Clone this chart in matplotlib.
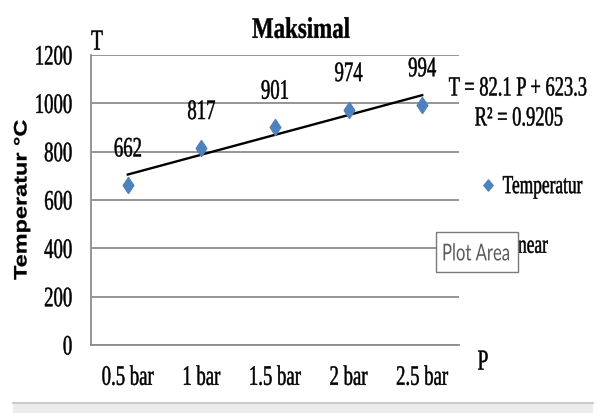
import numpy as np
import matplotlib
matplotlib.use("Agg")
import matplotlib.pyplot as plt
from matplotlib.path import Path
from matplotlib.lines import Line2D
from matplotlib.patches import Rectangle
from matplotlib.patheffects import AbstractPathEffect
from matplotlib.transforms import Affine2D

# ---------------- data ----------------
categories = ["0.5 bar", "1 bar", "1.5 bar", "2 bar", "2.5 bar"]
temps = [662, 817, 901, 974, 994]
y_ticks = [0, 200, 400, 600, 800, 1000, 1200]
title = "Maksimal"
y_label = "Temperatur °C"
series_label = "Temperatur"
trend_label = "Linear"

# ---------------- helpers ----------------
class Stretch(AbstractPathEffect):
    """Scale glyphs about their own centre (the source image is stretched)."""
    def __init__(self, sx=1.0, sy=1.0, stroke=0.0):
        super().__init__()
        self.sx, self.sy, self.stroke = sx, sy, stroke

    def draw_path(self, renderer, gc, tpath, affine, rgbFace=None):
        ext = tpath.get_extents()
        cx = (ext.x0 + ext.x1) / 2
        cy = (ext.y0 + ext.y1) / 2
        t = Affine2D().translate(-cx, -cy).scale(self.sx, self.sy).translate(cx, cy) + affine
        gc0 = renderer.new_gc()
        gc0.copy_properties(gc)
        if self.stroke > 0 and rgbFace is not None:
            gc0.set_linewidth(self.stroke)
            gc0.set_foreground(rgbFace)
        renderer.draw_path(gc0, tpath, t, rgbFace)
        gc0.restore()

SY = 1.5
STR = [Stretch(1.0, SY, 0.35)]

W, H = 599, 413
def fx(px): return px / W
def fy(py): return 1 - py / H

serif = "Liberation Serif"

fig = plt.figure(figsize=(W / 100, H / 100), dpi=100)
ax = fig.add_axes([fx(91), fy(345), fx(459) - fx(91), fy(55) - fy(345)])

x = np.arange(len(categories))
t_arr = np.array(temps, dtype=float)
P = np.arange(1, len(temps) + 1)
slope, intercept = np.polyfit(P, t_arr, 1)
fit = slope * P + intercept
r2 = 1 - np.sum((t_arr - fit) ** 2) / np.sum((t_arr - t_arr.mean()) ** 2)

diamond = Path([(0, 1.5), (1, 0), (0, -1.5), (-1, 0), (0, 1.5)],
               [Path.MOVETO, Path.LINETO, Path.LINETO, Path.LINETO, Path.CLOSEPOLY])
blue = "#4F81BD"

ax.plot(x, fit, color="black", lw=1.7, zorder=3)
ax.plot(x, temps, linestyle="none", marker=diamond, ms=11.5, color=blue,
        markeredgecolor=blue, zorder=4)

for xi, v in zip(x, temps):
    a = ax.annotate(f"{v}", (xi, v), xytext=(0, 26), textcoords="offset points",
                    ha="center", va="center", fontsize=13.5, family=serif, color="black")
    a.set_path_effects(STR)

ax.set_xlim(-0.5, len(categories) - 0.5)
ax.set_ylim(y_ticks[0], y_ticks[-1])
ax.set_yticks(y_ticks)
ax.set_xticks(x)
ax.set_xticklabels(categories)
ax.yaxis.grid(True, color="#8c8c8c", lw=1.3)
ax.set_axisbelow(True)
for s in ["top", "right"]:
    ax.spines[s].set_visible(False)
for s in ["left", "bottom"]:
    ax.spines[s].set_color("#8c8c8c")
    ax.spines[s].set_linewidth(1.3)
ax.tick_params(axis="both", length=0)
ax.tick_params(axis="y", pad=13.5)
ax.tick_params(axis="x", pad=17)
for lab in ax.get_xticklabels() + ax.get_yticklabels():
    lab.set_fontfamily(serif)
    lab.set_fontsize(13.5)
    lab.set_path_effects(STR)

yl = fig.text(fx(22), fy(200), y_label, rotation=90, ha="center", va="center",
              fontsize=13, fontweight="bold", family="Liberation Sans")
yl.set_path_effects([Stretch(1.3, 1.0, 0.2)])

tt = fig.text(fx(301), fy(30), title, ha="center", va="center", fontsize=16.5,
              fontweight="bold", family=serif)
tt.set_path_effects([Stretch(1.0, 1.3, 0.3)])

t1 = fig.text(fx(97), fy(42), "T", ha="center", va="center", fontsize=14, family=serif)
t1.set_path_effects(STR)
t2 = fig.text(fx(483), fy(362), "P", ha="center", va="center", fontsize=14, family=serif)
t2.set_path_effects(STR)

eq = fig.text(fx(518), fy(88), f"T = {slope:.1f} P + {intercept:.1f}", ha="center",
              va="center", fontsize=13.3, family=serif)
eq.set_path_effects(STR)
rr = fig.text(fx(519), fy(118), f"R² = {r2:.4f}", ha="center", va="center",
              fontsize=13.3, family=serif)
rr.set_path_effects(STR)

handles = [Line2D([], [], linestyle="none", marker=Path([(0, 1.2), (1, 0), (0, -1.2), (-1, 0), (0, 1.2)],
                  [Path.MOVETO, Path.LINETO, Path.LINETO, Path.LINETO, Path.CLOSEPOLY]),
                  ms=8, color=blue),
           Line2D([], [], color="black", lw=1.7)]
leg = fig.legend(handles, [series_label, trend_label], loc="center left",
                 bbox_to_anchor=(fx(479), fy(216.5)), bbox_transform=fig.transFigure,
                 frameon=False, borderpad=0, borderaxespad=0, handlelength=1.0,
                 handletextpad=0.36, labelspacing=2.45,
                 prop={"family": serif, "size": 12.5})
for t in leg.get_texts():
    t.set_path_effects(STR)

# "Plot Area" tooltip box
fig.add_artist(Rectangle((fx(436), fy(272)), fx(518) - fx(436), fy(232) - fy(272),
                         transform=fig.transFigure, facecolor="white",
                         edgecolor="#7a7a7a", lw=1.0, zorder=10))
pa = fig.text(fx(476), fy(253), "Plot Area", ha="center", va="center", fontsize=12,
              family="Lato", color="#5a5a5a", zorder=11)
pa.set_path_effects([Stretch(1.0, 1.4, 0.0)])

# bottom grey bar
fig.add_artist(Rectangle((fx(13), 0), fx(593) - fx(13), fy(402),
                         transform=fig.transFigure, facecolor="#ececec",
                         edgecolor="none", zorder=10))
fig.add_artist(Line2D([fx(13), fx(593)], [fy(402.5), fy(402.5)], transform=fig.transFigure,
                      color="#cdcdcd", lw=1.5, zorder=11))

fig.savefig("out.png", dpi=100)
